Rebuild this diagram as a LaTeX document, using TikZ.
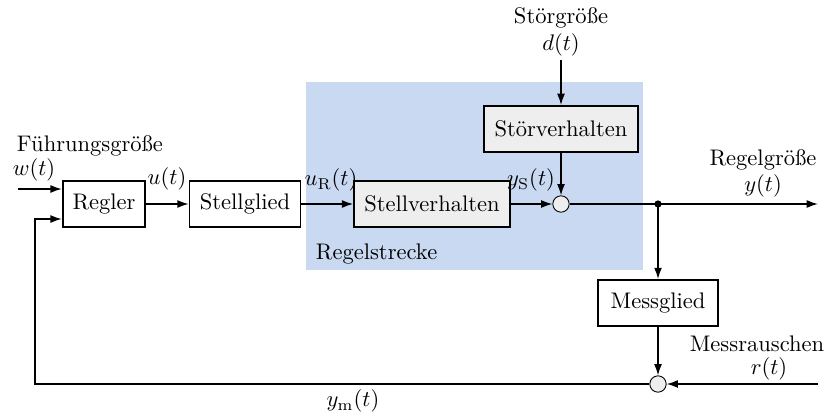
\documentclass[tikz,border=0pt]{standalone}
\usetikzlibrary{arrows.meta}
\definecolor{streckeblue}{RGB}{201,217,242}
\definecolor{boxgray}{RGB}{238,238,238}
\tikzset{
  block/.style={rectangle, draw, thick, minimum height=0.72cm, inner sep=4pt},
  grayblock/.style={block, fill=boxgray},
  sumnode/.style={circle, draw, fill=boxgray, minimum size=0.255cm, inner sep=0pt},
  sig/.style={-{Latex[length=5pt,width=3.5pt]}, semithick}
}
\begin{document}
\begin{tikzpicture}[x=0.0156cm, y=-0.0156cm]
      \useasboundingbox (0,0) rectangle (826,412);
      % Background
      \fill[streckeblue] (306,82) rectangle (643,270);
      \node[anchor=west] (strecke) at (308,254) {Regelstrecke};

      % Nodes
      \node (regler) at (104,204) [block, minimum width=1.29cm] {Regler};
      \node (stellglied) at (245,204) [block, minimum width=1.73cm] {Stellglied};
      \node (stellverh) at (432,204) [grayblock, minimum width=2.43cm] {Stellverhalten};
      \node (stoerverh) at (561,129) [grayblock, minimum width=2.40cm] {St\"orverhalten};
      \node (sumy) at (561,204) [sumnode] {};
      \node (messglied) at (658,303) [block, minimum width=1.87cm] {Messglied};
      \node (summ) at (658,384) [sumnode] {};
      \coordinate (branch) at (658,204);

      \coordinate (win) at (18,189);
      \coordinate (yout) at (818,204);
      \coordinate (rin) at (818,384);
      \coordinate (dtop) at (561,60);
      \coordinate (fbcorner) at (35,384);

      % Labels
      \node[anchor=west] (fuehrung) at (9,146) {F\"uhrungsgr\"o\ss e};
      \node (wlabel) at (34,170) {$w(t)$};
      \node (ulabel) at (167,179) {$u(t)$};
      \node (urlabel) at (331,180) {$u_\mathrm{R}(t)$};
      \node (yslabel) at (531,180) {$y_\mathrm{S}(t)$};
      \node (stoergr) at (561,18) {St\"orgr\"o\ss e};
      \node (dlabel) at (561,45) {$d(t)$};
      \node (regelgr) at (763,160) {Regelgr\"o\ss e};
      \node (ylabel) at (763,186) {$y(t)$};
      \node (rausch) at (757,344) {Messrauschen};
      \node (rlabel) at (769,369) {$r(t)$};
      \node (ymlabel) at (353,401) {$y_\mathrm{m}(t)$};

      % Edges
      \draw[sig] (win) -- (regler.west |- win);
      \draw[sig] (regler) -- (stellglied);
      \draw[sig] (stellglied) -- (stellverh);
      \draw[sig] (stellverh) -- (sumy);
      \draw[sig] (dtop) -- (stoerverh);
      \draw[sig] (stoerverh) -- (sumy);
      \draw[sig] (sumy) -- (yout);
      \fill (branch) circle (1.6pt);
      \draw[sig] (branch) -- (messglied);
      \draw[sig] (messglied) -- (summ);
      \draw[sig] (rin) -- (summ);
      \draw[sig] (summ) -- (fbcorner) |- (regler.west |- 0,219);
    \end{tikzpicture}
\end{document}
